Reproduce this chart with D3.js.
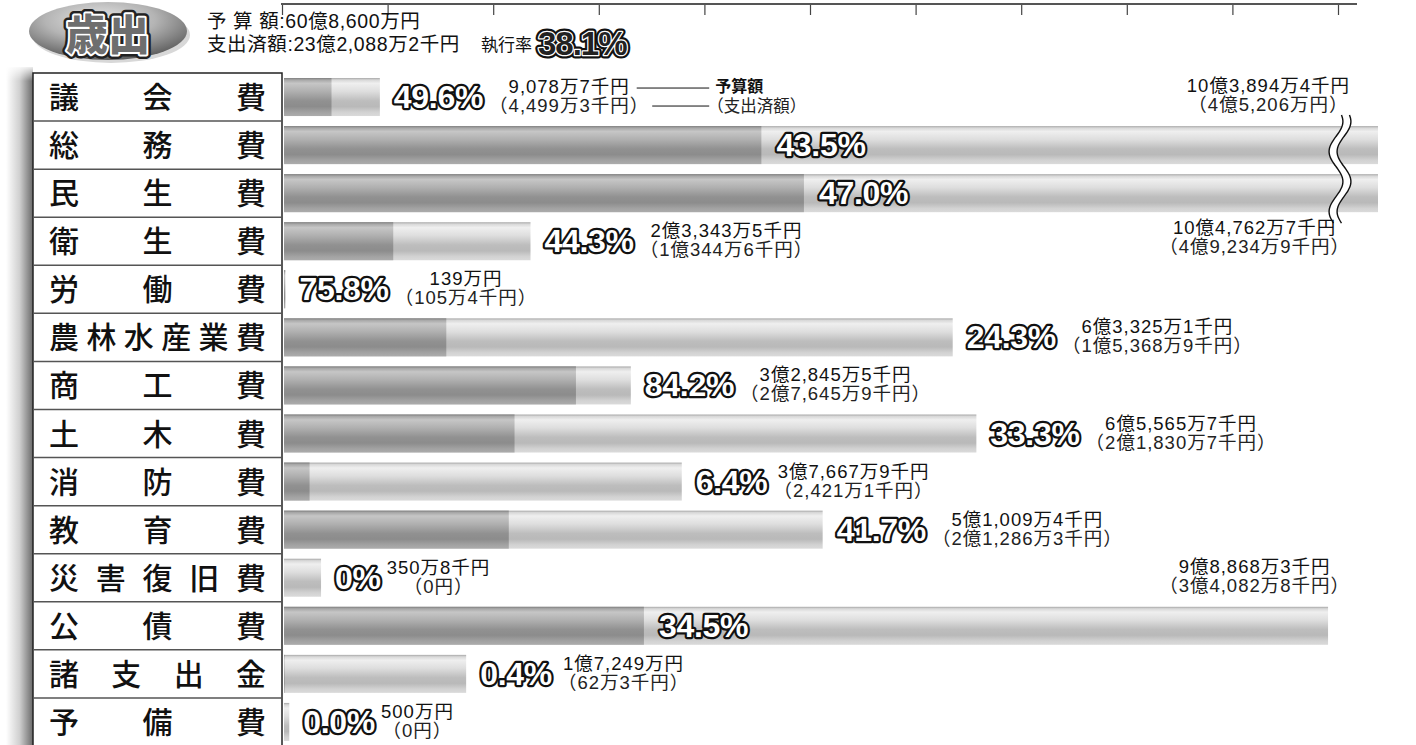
<!DOCTYPE html>
<html><head><meta charset="utf-8">
<script src="https://cdn.jsdelivr.net/npm/d3@7"></script>
<style>
html,body{margin:0;padding:0;background:#fff;}
svg{display:block;}
</style></head>
<body>
<script>
// ---- data (amounts in 万円) ----
const categories = ["議会費","総務費","民生費","衛生費","労働費","農林水産業費","商工費","土木費","消防費","教育費","災害復旧費","公債費","諸支出金","予備費"];
const budgetValues = [9078.7, 103894.4, 104762.7, 23343.5, 139, 63325.1, 32845.5, 65565.7, 37667.9, 51009.4, 3508, 98868.3, 17249, 500];
const spentValues  = [4499.3, 45206, 49234.9, 10344.6, 105.4, 15368.9, 27645.9, 21830.7, 2421.1, 21286.3, 0, 34082.8, 62.3, 0];
const rateLabels = ["49.6%","43.5%","47.0%","44.3%","75.8%","24.3%","84.2%","33.3%","6.4%","41.7%","0%","34.5%","0.4%","0.0%"];
const budgetLabels = ["9,078万7千円","10億3,894万4千円","10億4,762万7千円","2億3,343万5千円","139万円","6億3,325万1千円","3億2,845万5千円","6億5,565万7千円","3億7,667万9千円","5億1,009万4千円","350万8千円","9億8,868万3千円","1億7,249万円","500万円"];
const spentLabels = ["（4,499万3千円）","（4億5,206万円）","（4億9,234万9千円）","（1億344万6千円）","（105万4千円）","（1億5,368万9千円）","（2億7,645万9千円）","（2億1,830万7千円）","（2,421万1千円）","（2億1,286万3千円）","（0円）","（3億4,082万8千円）","（62万3千円）","（0円）"];
const axisTicks = [0,10000,20000,30000,40000,50000,60000,70000,80000,90000,100000];
const headerTitle = "歳出";
const headerLines = ["予 算 額:60億8,600万円","支出済額:23億2,088万2千円"];
const totalRateLabel = "執行率";
const totalRate = "38.1%";
const legendLabels = ["予算額","（支出済額）"];

const W = 1416, H = 745;
const FONT = "'Noto Sans CJK JP','Noto Sans',sans-serif";
const MIXFONT = "'Liberation Sans','Noto Sans CJK JP',sans-serif";
const NUMFONT = "'Liberation Sans','Arial',sans-serif";

const svg = d3.select("body").append("svg").attr("width", W).attr("height", H);
const defs = svg.append("defs");

function vgrad(id, stops){
  const g = defs.append("linearGradient").attr("id", id).attr("x1",0).attr("y1",0).attr("x2",0).attr("y2",1);
  stops.forEach(s => g.append("stop").attr("offset", s[0]).attr("stop-color", s[1]));
}
vgrad("gBudget", [[0,"#a6a6a6"],[0.05,"#d8d8d8"],[0.14,"#efefef"],[0.35,"#dedede"],[0.6,"#bdbdbd"],[0.75,"#b9b9b9"],[0.9,"#d2d2d2"],[1,"#dadada"]]);
vgrad("gSpent", [[0,"#7e7e7e"],[0.05,"#a8a8a8"],[0.14,"#c6c6c6"],[0.35,"#b0b0b0"],[0.6,"#919191"],[0.75,"#8c8c8c"],[0.9,"#a2a2a2"],[1,"#acacac"]]);
const sh = defs.append("linearGradient").attr("id","gShadow").attr("x1",0).attr("x2",1).attr("y1",0).attr("y2",0);
sh.append("stop").attr("offset",0).attr("stop-color","#fff");
sh.append("stop").attr("offset",0.5).attr("stop-color","#d0d0d0");
sh.append("stop").attr("offset",1).attr("stop-color","#6a6a6a");
const shT = defs.append("linearGradient").attr("id","gShadowT").attr("x1",0).attr("x2",0).attr("y1",0).attr("y2",1);
shT.append("stop").attr("offset",0).attr("stop-color","#fff").attr("stop-opacity",1);
shT.append("stop").attr("offset",1).attr("stop-color","#fff").attr("stop-opacity",0);
const rg = defs.append("radialGradient").attr("id","gBadge").attr("cx","45%").attr("cy","30%").attr("r","70%");
rg.append("stop").attr("offset",0).attr("stop-color","#e6e6e6");
rg.append("stop").attr("offset",0.5).attr("stop-color","#b4b4b4");
rg.append("stop").attr("offset",1).attr("stop-color","#5e5e5e");

// ---- scales ----
const x = d3.scaleLinear().domain([0, 100000]).range([284, 1340]);
const clipX = 1378;
const rowTop = 73, rowH = 48.07;
const y = d3.scaleBand().domain(categories).range([rowTop, rowTop + rowH*categories.length]).paddingInner(0).paddingOuter(0);
const barH = 38;

// ---- axis ----
const axisG = svg.append("g").attr("transform","translate(-2,4)")
  .call(d3.axisBottom(x).tickValues(axisTicks).tickSize(11).tickFormat(""));
axisG.select(".domain").remove();
axisG.selectAll(".tick line").attr("stroke","#444").attr("stroke-width",1.2);
svg.append("line").attr("x1", x(0)-3).attr("x2", x(100000)+17).attr("y1",4).attr("y2",4)
  .attr("stroke","#555").attr("stroke-width",2);

// ---- header badge ----
svg.append("ellipse").attr("cx",111).attr("cy",35).attr("rx",79).attr("ry",28).attr("fill","#d8d8d8");
svg.append("ellipse").attr("cx",108).attr("cy",31).attr("rx",79).attr("ry",29).attr("fill","url(#gBadge)");
const badge = svg.append("g").attr("transform","translate(108,50)");
badge.append("text").attr("text-anchor","middle")
  .attr("font-family",FONT).attr("font-weight",900).attr("font-size",42)
  .attr("fill","none").attr("stroke","#222").attr("stroke-width",9).attr("stroke-linejoin","round").text(headerTitle);
badge.append("text").attr("text-anchor","middle")
  .attr("font-family",FONT).attr("font-weight",900).attr("font-size",42)
  .attr("fill","#6e6e6e").attr("stroke","#fff").attr("stroke-width",4).attr("paint-order","stroke").attr("stroke-linejoin","round").text(headerTitle);

headerLines.forEach((t,i) => {
  svg.append("text").attr("x",207).attr("y",28+i*23).attr("font-family",MIXFONT)
    .attr("font-size",19.5).attr("letter-spacing",0.6).attr("fill","#111").text(t);
});
svg.append("text").attr("x",481).attr("y",51).attr("font-family",FONT).attr("font-size",17).attr("fill","#111").text(totalRateLabel);
svg.append("text").attr("x",538).attr("y",55).attr("font-family",NUMFONT).attr("font-weight",700).attr("font-size",33)
  .attr("letter-spacing",-1).attr("fill","none").attr("stroke","#111").attr("stroke-width",7).attr("stroke-linejoin","round").text(totalRate);
svg.append("text").attr("x",538).attr("y",55).attr("font-family",NUMFONT).attr("font-weight",700).attr("font-size",33)
  .attr("letter-spacing",-1).attr("fill","#222").attr("stroke","#fff").attr("stroke-width",2.5).attr("paint-order","stroke").attr("stroke-linejoin","round").text(totalRate);

// ---- label box ----
const boxX = 33, boxR = 282;
const boxTop = y.range()[0], boxBot = y.range()[1];
svg.append("rect").attr("x",6).attr("y",boxTop-6).attr("width",boxX-6).attr("height",boxBot-boxTop+6).attr("fill","url(#gShadow)");
svg.append("rect").attr("x",6).attr("y",boxTop-8).attr("width",boxX-6).attr("height",16).attr("fill","url(#gShadowT)");
svg.append("rect").attr("x",boxX).attr("y",boxTop).attr("width",boxR-boxX).attr("height",boxBot-boxTop+2)
  .attr("fill","#fff").attr("stroke","#222").attr("stroke-width",1.5);
categories.forEach((c,i) => {
  if (i>0) svg.append("line").attr("x1",boxX).attr("x2",boxR).attr("y1",y(c)).attr("y2",y(c)).attr("stroke","#555").attr("stroke-width",1.5);
  const chars = Array.from(c);
  const n = chars.length;
  const c0 = 64, c1 = 251;
  chars.forEach((ch,j) => {
    svg.append("text").attr("x", c0 + j*(c1-c0)/(n-1)).attr("y", y(c)+y.bandwidth()/2+11)
      .attr("text-anchor","middle").attr("font-family",FONT).attr("font-weight",500).attr("font-size",30)
      .attr("fill","#111").text(ch);
  });
});

// ---- bars ----
const bw = d => Math.max(0, Math.min(x(d), clipX) - x(0));
const barsG = svg.append("g");
categories.forEach((c,i) => {
  const by = y(c) + (y.bandwidth()-barH)/2;
  barsG.append("rect").attr("x",x(0)).attr("y",by).attr("width",bw(budgetValues[i])).attr("height",barH).attr("fill","url(#gBudget)");
  barsG.append("rect").attr("x",x(0)).attr("y",by).attr("width",bw(spentValues[i])).attr("height",barH).attr("fill","url(#gSpent)");
});

// ---- break marks ----
const brokenIdx = categories.map((c,i)=>i).filter(i => x(budgetValues[i]) > clipX);
if (brokenIdx.length) {
  const yA = y(categories[brokenIdx[0]]) - 6;
  const yB = y(categories[brokenIdx[brokenIdx.length-1]]) + y.bandwidth() + 6;
  const xc = x(100000);
  const pts = d3.range(0, 41).map(k => {
    const t = k/40; const yy = yA + t*(yB-yA);
    return [xc + 7*Math.sin(t*Math.PI*2*1.8 + 0.9), yy];
  });
  const off = 8;
  const left = pts.map(p => [p[0]-off/2, p[1]]), right = pts.map(p => [p[0]+off/2, p[1]]);
  const line = d3.line().curve(d3.curveBasis);
  svg.append("path").attr("d", line(left.concat(right.slice().reverse())) + "Z").attr("fill","#fff");
  svg.append("path").attr("d", line(left)).attr("fill","none").attr("stroke","#111").attr("stroke-width",1.4);
  svg.append("path").attr("d", line(right)).attr("fill","none").attr("stroke","#111").attr("stroke-width",1.4);
}

// ---- percent + value labels ----
const isInside = i => x(budgetValues[i]) > 1200;
function pctText(px, cy, t){
  return svg.append("text").attr("x",px).attr("y",cy+11).attr("font-family",NUMFONT).attr("font-weight",700)
    .attr("font-size",32).attr("letter-spacing",-0.3).attr("fill","#fff").attr("stroke","#111").attr("stroke-width",4.5)
    .attr("paint-order","stroke").attr("stroke-linejoin","round").text(t);
}
function valueLabels(cx0, cy, i, anchorRight){
  const t1 = svg.append("text").attr("y",cy-4).attr("font-family",MIXFONT).attr("font-size",18.5).attr("letter-spacing",1)
    .attr("fill","#111").attr("text-anchor","middle").text(budgetLabels[i]);
  const t2 = svg.append("text").attr("y",cy+15).attr("font-family",MIXFONT).attr("font-size",18.5).attr("letter-spacing",1)
    .attr("fill","#222").attr("text-anchor","middle").text(spentLabels[i]);
  const w = Math.max(t1.node().getComputedTextLength(), t2.node().getComputedTextLength());
  const cx = anchorRight ? cx0 - w/2 : cx0 + w/2;
  t1.attr("x",cx); t2.attr("x",cx);
  return {t1, t2, cx, w};
}
categories.forEach((c,i) => {
  const cy = y(c) + y.bandwidth()/2;
  if (isInside(i)) {
    pctText(x(spentValues[i]) + 15, cy, rateLabels[i]);
    const above = i>0 && !isInside(i-1);
    const ty = above ? y(categories[i-1]) + y.bandwidth()/2 - 1 : y(categories[i+1]) + y.bandwidth()/2 - 3;
    valueLabels(x(100000) + 10, ty, i, true);
  } else {
    const p = pctText(x(budgetValues[i]) + 14, cy, rateLabels[i]);
    const pEnd = x(budgetValues[i]) + 14 + p.node().getComputedTextLength();
    const v = valueLabels(pEnd + 6, cy, i, false);
    if (i === 0) {
      // legend lines
      const lx = v.cx + v.w/2 + 3;
      const l1 = v.cx + v.t1.node().getComputedTextLength()/2 + 7;
      svg.append("line").attr("x1",l1).attr("x2",lx+57).attr("y1",cy-9).attr("y2",cy-9).attr("stroke","#111").attr("stroke-width",1);
      svg.append("line").attr("x1",lx).attr("x2",lx+57).attr("y1",cy+9).attr("y2",cy+9).attr("stroke","#111").attr("stroke-width",1);
      svg.append("text").attr("x",lx+63).attr("y",cy-5).attr("font-family",FONT).attr("font-weight",700).attr("font-size",16).attr("fill","#111").text(legendLabels[0]);
      svg.append("text").attr("x",lx+55).attr("y",cy+15).attr("font-family",FONT).attr("font-size",16.5).attr("fill","#222").text(legendLabels[1]);
    }
  }
});
</script>
</body></html>
